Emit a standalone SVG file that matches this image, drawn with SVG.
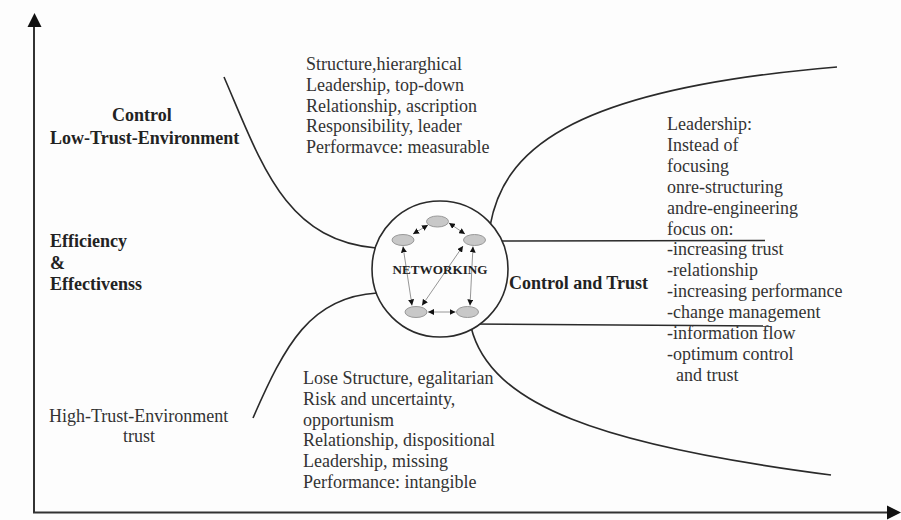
<svg xmlns="http://www.w3.org/2000/svg" width="901" height="520" viewBox="0 0 901 520">
<style>
.t{font-family:"Liberation Serif","Times New Roman",serif;font-size:18px;fill:#333}
.b{font-weight:bold;fill:#222}
.ln{fill:none;stroke:#2a2a2a;stroke-width:1.6}
.ax{fill:none;stroke:#333;stroke-width:2}
.nd{fill:#c8c8c8;stroke:#999;stroke-width:1}
.ar{fill:none;stroke:#8a8a8a;stroke-width:0.9;marker-start:url(#ah);marker-end:url(#ah)}
</style>
<defs>
<marker id="ah" viewBox="0 0 6 6" refX="6" refY="3" markerWidth="6" markerHeight="6" markerUnits="userSpaceOnUse" orient="auto-start-reverse">
<path d="M0,0 L6,3 L0,6 z" fill="#111"/>
</marker>
</defs>
<rect width="901" height="520" fill="#fdfdfd"/>

<g id="axes">
<line class="ax" x1="34" y1="513" x2="34" y2="25"/>
<polygon points="34.5,13 27.5,27 41.5,27" fill="#111"/>
<line class="ax" x1="33" y1="512.5" x2="889" y2="512.5"/>
<polygon points="901,512.5 887,505.5 887,519.5" fill="#111"/>
</g>

<g id="connectors">
<path class="ln" d="M224,77 C262,165 285,240 376,248"/>
<path class="ln" d="M253,418 C285,345 310,297 377,293"/>
<path class="ln" d="M490,226 C503,155 560,90 837,67"/>
<path class="ln" d="M471,327 C490,405 600,445 831,475"/>
<line class="ln" x1="490" y1="241" x2="765" y2="240.5"/>
<line class="ln" x1="470" y1="324" x2="770" y2="326"/>
</g>

<g id="control-low-trust">
<text class="t b" x="112" y="121">Control</text>
<text class="t b" x="50" y="144">Low-Trust-Environment</text>
</g>

<g id="efficiency">
<text class="t b" x="50" y="247">Efficiency</text>
<text class="t b" x="50" y="269">&amp;</text>
<text class="t b" x="50" y="290">Effectivenss</text>
</g>

<g id="high-trust">
<text class="t" x="49" y="422">High-Trust-Environment</text>
<text class="t" x="123" y="442">trust</text>
</g>

<g id="hierarchical-attributes">
<text class="t" x="306" y="70">Structure,hierarghical</text>
<text class="t" x="306" y="90.8">Leadership, top-down</text>
<text class="t" x="306" y="111.6">Relationship, ascription</text>
<text class="t" x="306" y="132.4">Responsibility, leader</text>
<text class="t" x="306" y="153.2">Performavce: measurable</text>
</g>

<g id="egalitarian-attributes">
<text class="t" x="303" y="384">Lose Structure, egalitarian</text>
<text class="t" x="303" y="404.8">Risk and uncertainty,</text>
<text class="t" x="303" y="425.6">opportunism</text>
<text class="t" x="303" y="446.4">Relationship, dispositional</text>
<text class="t" x="303" y="467.2">Leadership, missing</text>
<text class="t" x="303" y="488">Performance: intangible</text>
</g>

<g id="networking">
<circle cx="440" cy="269" r="68" fill="#fdfdfd" stroke="#2a2a2a" stroke-width="1.6"/>
<ellipse class="nd" cx="437.5" cy="221.5" rx="11" ry="5.5"/>
<ellipse class="nd" cx="403" cy="240" rx="11" ry="5.5"/>
<ellipse class="nd" cx="474.5" cy="240" rx="11" ry="5.5"/>
<ellipse class="nd" cx="416" cy="312" rx="11" ry="5.5"/>
<ellipse class="nd" cx="467.5" cy="312" rx="11" ry="5.5"/>
<line class="ar" x1="413" y1="234" x2="428" y2="225"/>
<line class="ar" x1="449" y1="223" x2="465" y2="234"/>
<line class="ar" x1="403" y1="246.5" x2="412" y2="305.5"/>
<line class="ar" x1="463" y1="246" x2="422" y2="305.5"/>
<line class="ar" x1="473" y1="246.5" x2="470" y2="305.5"/>
<line class="ar" x1="428" y1="312" x2="455.5" y2="312"/>
<text class="t b" x="440" y="273.5" text-anchor="middle" style="font-size:12.5px" textLength="95" lengthAdjust="spacingAndGlyphs">NETWORKING</text>
</g>

<g id="control-and-trust">
<text class="t b" x="509" y="289">Control and Trust</text>
</g>

<g id="leadership-focus">
<text class="t" x="667" y="130">Leadership:</text>
<text class="t" x="667" y="150.9">Instead of</text>
<text class="t" x="667" y="171.8">focusing</text>
<text class="t" x="667" y="192.7">onre-structuring</text>
<text class="t" x="667" y="213.6">andre-engineering</text>
<text class="t" x="667" y="234.5">focus on:</text>
<text class="t" x="667" y="255.4">-increasing trust</text>
<text class="t" x="667" y="276.3">-relationship</text>
<text class="t" x="667" y="297.2">-increasing performance</text>
<text class="t" x="667" y="318.1">-change management</text>
<text class="t" x="667" y="339">-information flow</text>
<text class="t" x="667" y="359.9">-optimum control</text>
<text class="t" x="676" y="380.8">and trust</text>
</g>
</svg>
